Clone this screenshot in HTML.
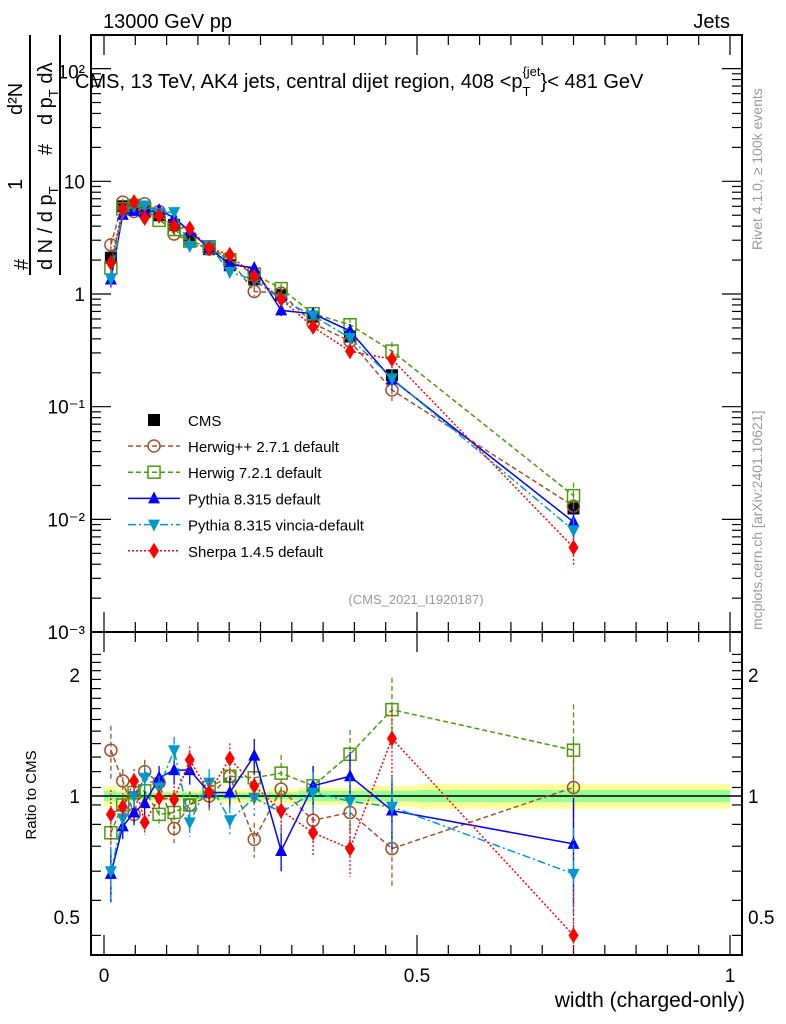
<!DOCTYPE html>
<html><head><meta charset="utf-8"><style>
body{margin:0;background:#fff;}
svg{display:block;font-family:"Liberation Sans",sans-serif;}
</style></head><body>
<svg id="c" width="786" height="1024" xmlns="http://www.w3.org/2000/svg">
<text x="103" y="28" font-size="20">13000 GeV pp</text>
<text x="730" y="28" font-size="20" text-anchor="end">Jets</text>
<text x="75" y="88" font-size="20">CMS, 13 TeV, AK4 jets, central dijet region, 408 &lt;p<tspan font-size="13" dy="8">T</tspan><tspan font-size="13" dy="-20" dx="-8">{jet</tspan><tspan dy="12">}&lt; 481 GeV</tspan></text>
<text x="416" y="604" font-size="13" fill="#999" text-anchor="middle">(CMS_2021_I1920187)</text>
<text transform="translate(762,250) rotate(-90)" font-size="14" fill="#999">Rivet 4.1.0, ≥ 100k events</text>
<text transform="translate(762,630) rotate(-90)" font-size="14" fill="#999">mcplots.cern.ch [arXiv:2401.10621]</text>
<g font-size="20">
<text transform="translate(28,270) rotate(-90)">#</text>
<text transform="translate(22,190) rotate(-90)">1</text>
<text transform="translate(52,270) rotate(-90)">d N / d p<tspan font-size="13" dy="6">T</tspan></text>
<text transform="translate(22,115) rotate(-90)">d²N</text>
<text transform="translate(52,155) rotate(-90)">#</text>
<text transform="translate(52,125) rotate(-90)">d p<tspan font-size="13" dy="6">T</tspan><tspan dy="-6"> dλ</tspan></text>
<line x1="30" y1="35" x2="30" y2="275" stroke="#000" stroke-width="2"/>
<line x1="60" y1="35" x2="60" y2="275" stroke="#000" stroke-width="2"/>
</g>
<text transform="translate(36,795) rotate(-90)" font-size="15" text-anchor="middle">Ratio to CMS</text>
<text x="745" y="1007" font-size="21" text-anchor="end">width (charged-only)</text>
</svg>
<script>
const xs=[0.011,0.030,0.048,0.065,0.088,0.112,0.137,0.168,0.201,0.240,0.283,0.334,0.393,0.460,0.750];
const edges=[0,0.02,0.04,0.055,0.075,0.1,0.125,0.15,0.185,0.22,0.26,0.31,0.36,0.43,0.5,1.0];
const cms=[2.1,6.0,6.0,5.5,5.0,4.1,3.1,2.5,1.8,1.35,0.98,0.63,0.42,0.19,0.0125];
const cmsErr=[0.06,0.04,0.03,0.03,0.03,0.03,0.03,0.03,0.04,0.04,0.04,0.05,0.05,0.06,0.07];
const cmsStat=[0.03,0.02,0.02,0.02,0.02,0.02,0.02,0.02,0.02,0.02,0.02,0.03,0.03,0.03,0.035];
const rHerwigPP=[1.30,1.09,0.90,1.15,1.08,0.83,0.95,1.0,1.12,0.78,1.04,0.87,0.91,0.74,1.05];
const rHerwig7=[0.81,0.95,1.02,1.03,0.90,0.91,0.95,1.05,1.12,1.11,1.14,1.06,1.27,1.64,1.30];
const rPythia=[0.64,0.84,0.91,0.96,1.11,1.16,1.16,1.02,1.02,1.26,0.73,1.06,1.12,0.92,0.76];
const rVincia=[0.65,0.88,1.0,1.11,1.05,1.30,0.86,1.08,0.87,0.99,0.91,1.02,0.97,0.94,0.64];
const rSherpa=[0.90,0.94,1.09,0.86,0.99,0.98,1.23,1.02,1.24,1.06,0.92,0.81,0.74,1.39,0.45];
const relErr=[0.15,0.07,0.07,0.07,0.07,0.08,0.08,0.08,0.09,0.1,0.11,0.12,0.15,0.2,0.3];
const yTicks=["10²","10","1","10⁻¹","10⁻²","10⁻³"];
const rTicks=[2,1,0.5];
const NS="http://www.w3.org/2000/svg";
const svg=document.getElementById('c');
function mk(t,a,p){const e=document.createElementNS(NS,t);for(const k in a)e.setAttribute(k,a[k]);(p||svg).appendChild(e);return e;}
const L=91,R=742,T=35,MB=632,RB=955;
const X=v=>104+626*v;
const Y=v=>294-112.7*Math.log10(v);
const YR=v=>796-121*Math.log2(v);
// ratio band
const band=mk('g',{});


for(let i=0;i<xs.length;i++){
 mk('rect',{x:X(edges[i]),y:YR(1+cmsErr[i]),width:X(edges[i+1])-X(edges[i]),height:YR(1-cmsErr[i])-YR(1+cmsErr[i]),fill:'#ffff99'},band);
 mk('rect',{x:X(edges[i]),y:YR(1+cmsStat[i]),width:X(edges[i+1])-X(edges[i]),height:YR(1-cmsStat[i])-YR(1+cmsStat[i]),fill:'#99ff99'},band);
}
mk('line',{x1:L,x2:R,y1:YR(1),y2:YR(1),stroke:'#000','stroke-width':1.5});
// frames
const fr=mk('g',{fill:'none',stroke:'#000','stroke-width':2});


mk('rect',{x:L,y:T,width:R-L,height:MB-T},fr);
mk('rect',{x:L,y:MB,width:R-L,height:RB-MB},fr);
// ticks
const tk=mk('g',{stroke:'#000','stroke-width':1.2});


for(let d=-3;d<=2;d++){
 for(let m=1;m<10;m++){const v=m*Math.pow(10,d);const y=Y(v);if(y<T||y>MB)continue;const l=m==1?20:10;
  mk('line',{x1:L,x2:L+l,y1:y,y2:y},tk);mk('line',{x1:R,x2:R-l,y1:y,y2:y},tk);}
}
for(let v=0.45;v<=2.3;v+=0.1){const y=YR(v);if(y<MB||y>RB)continue;const big=[0.5,1,2].some(q=>Math.abs(q-v)<1e-6);const l=big?20:10;
 mk('line',{x1:L,x2:L+l,y1:y,y2:y},tk);mk('line',{x1:R,x2:R-l,y1:y,y2:y},tk);}
for(let i=0;i<=20;i++){const v=i*0.05;const x=X(v);const l=i%10==0?20:10;
 mk('line',{x1:x,x2:x,y1:T,y2:T+l},tk);mk('line',{x1:x,x2:x,y1:MB,y2:MB-l},tk);
 mk('line',{x1:x,x2:x,y1:MB,y2:MB+l},tk);mk('line',{x1:x,x2:x,y1:RB,y2:RB-l},tk);}
// tick labels
yTicks.forEach((s,i)=>{const t=mk('text',{x:85,y:Y(Math.pow(10,2-i))+(i==0?10:7),'font-size':19,'text-anchor':'end'});t.textContent=s;
 });
rTicks.forEach(v=>{['L','R'].forEach(s=>{const t=mk('text',{x:s=='L'?80:748,y:YR(v)+7,'font-size':19,'text-anchor':s=='L'?'end':'start'});t.textContent=String(v);
 });});
[0,0.5,1].forEach(v=>{const t=mk('text',{x:X(v),y:982,'font-size':19,'text-anchor':'middle'});t.textContent=String(v);
 });
// markers
function marker(type,x,y,col,p){
 if(type=='sq')return mk('rect',{x:x-6,y:y-6,width:12,height:12,fill:'#000'},p);
 if(type=='circ')return mk('circle',{cx:x,cy:y,r:6,fill:'none',stroke:col,'stroke-width':1.5},p);
 if(type=='osq')return mk('rect',{x:x-6,y:y-6,width:12,height:12,fill:'none',stroke:col,'stroke-width':1.5},p);
 if(type=='tu')return mk('polygon',{points:`${x},${y-7} ${x-6},${y+5} ${x+6},${y+5}`,fill:col},p);
 if(type=='td')return mk('polygon',{points:`${x},${y+7} ${x-6},${y-5} ${x+6},${y-5}`,fill:col},p);
 if(type=='dia')return mk('polygon',{points:`${x},${y-8} ${x-5},${y} ${x},${y+8} ${x+5},${y}`,fill:col},p);
}
const series=[
 {n:'herwigpp',r:rHerwigPP,c:'#a0522d',m:'circ',d:'5,3',lab:'Herwig++ 2.7.1 default'},
 {n:'herwig7',r:rHerwig7,c:'#4a9a0a',m:'osq',d:'5,3',lab:'Herwig 7.2.1 default'},
 {n:'pythia',r:rPythia,c:'#0000ff',m:'tu',d:'',lab:'Pythia 8.315 default'},
 {n:'vincia',r:rVincia,c:'#0099cc',m:'td',d:'8,3,2,3',lab:'Pythia 8.315 vincia-default'},
 {n:'sherpa',r:rSherpa,c:'#ff0000',m:'dia',d:'2,2',lab:'Sherpa 1.4.5 default'}];
// CMS main
const cg=mk('g',{});


xs.forEach((x,i)=>{marker('sq',X(x),Y(cms[i]),'#000',cg);
 mk('line',{x1:X(x),x2:X(x),y1:Y(cms[i]*(1+cmsErr[i])),y2:Y(cms[i]*(1-cmsErr[i])),stroke:'#000','stroke-width':1.5},cg);});
series.forEach(s=>{
 const g=mk('g',{});
 
 
 const pm=xs.map((x,i)=>X(x)+','+Y(cms[i]*s.r[i])).join(' ');
 const pr=xs.map((x,i)=>X(x)+','+YR(s.r[i])).join(' ');
 mk('polyline',{points:pm,fill:'none',stroke:s.c,'stroke-width':1.5,'stroke-dasharray':s.d},g);
 mk('polyline',{points:pr,fill:'none',stroke:s.c,'stroke-width':1.5,'stroke-dasharray':s.d},g);
 xs.forEach((x,i)=>{const v=cms[i]*s.r[i],e=relErr[i];
  mk('line',{x1:X(x),x2:X(x),y1:Y(v*(1+e)),y2:Y(v*(1-e)),stroke:s.c,'stroke-width':1.3,'stroke-dasharray':s.d},g);
  mk('line',{x1:X(x),x2:X(x),y1:Math.max(MB,YR(s.r[i]*(1+e))),y2:Math.min(RB,YR(s.r[i]*(1-e))),stroke:s.c,'stroke-width':1.3,'stroke-dasharray':s.d},g);
  marker(s.m,X(x),Y(v),s.c,g);
  const yr=YR(s.r[i]);if(yr>MB&&yr<RB)marker(s.m,X(x),yr,s.c,g);});
});
// legend
const lg=mk('g',{});


marker('sq',154,420,'#000',lg);
const t0=mk('text',{x:188,y:426,'font-size':15},lg);t0.textContent='CMS';
series.forEach((s,i)=>{const y=446+i*26.2;
 const e=mk('g',{},lg);
 
 
 mk('line',{x1:128,x2:180,y1:y,y2:y,stroke:s.c,'stroke-width':1.5,'stroke-dasharray':s.d},e);
 marker(s.m,154,y,s.c,e);
 const t=mk('text',{x:188,y:y+6,'font-size':15},e);t.textContent=s.lab;});
</script>
</body></html>
